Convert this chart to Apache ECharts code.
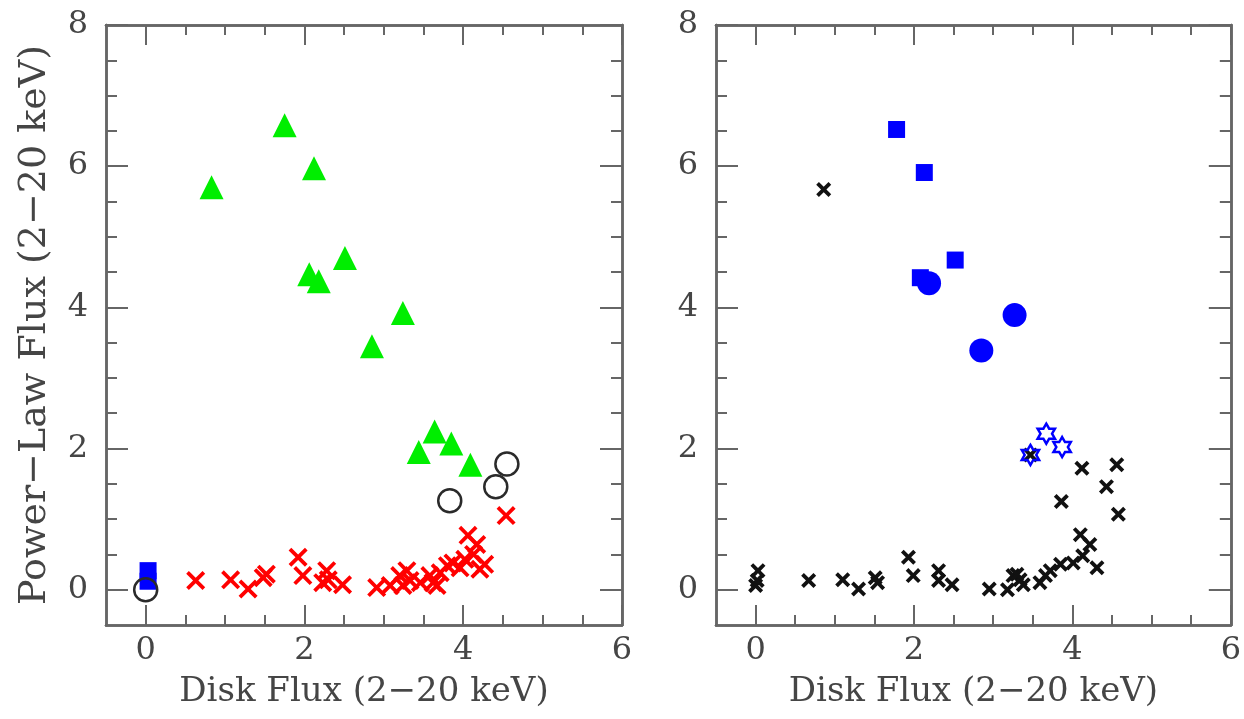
<!DOCTYPE html>
<html>
<head>
<meta charset="utf-8">
<script src="https://cdn.jsdelivr.net/npm/echarts@6/dist/echarts.min.js"></script>
<style>
html,body{margin:0;padding:0;background:#fff;}
#c{width:1244px;height:719px;}
</style>
</head>
<body>
<div id="c"></div>
<script>
// ---------- data ----------
const xTickLabels = [0, 2, 4, 6];
const yTickLabels = [0, 2, 4, 6, 8];
const xMinorTicks = [0.5, 1, 1.5, 2.5, 3, 3.5, 4.5, 5, 5.5];
const yMinorTicks = [0.5, 1, 1.5, 2.5, 3, 3.5, 4.5, 5, 5.5, 6.5, 7, 7.5];
const xTitle = 'Disk Flux (2\u221220 keV)';
const yTitle = 'Power\u2212Law Flux (2\u221220 keV)';

// left panel
const leftTriangles = [[0.83,5.70],[1.75,6.58],[2.12,5.97],[2.06,4.47],[2.18,4.37],[2.51,4.70],
  [2.85,3.45],[3.24,3.92],[3.44,1.95],[3.64,2.24],[3.85,2.07],[4.09,1.77]];
const leftOpenCircles = [[0.0,0.0],[3.83,1.26],[4.41,1.46],[4.55,1.78]];
const leftSquares = [[0.03,0.27],[0.03,0.12]];
const leftCrosses = [[0.63,0.13],[1.07,0.14],[1.29,0.01],[1.48,0.17],[1.52,0.22],[1.92,0.46],
  [1.98,0.20],[2.28,0.27],[2.30,0.14],[2.23,0.10],[2.48,0.07],[2.91,0.03],[3.08,0.06],[3.20,0.20],
  [3.29,0.27],[3.33,0.13],[3.24,0.06],[3.46,0.10],[3.58,0.20],[3.62,0.10],[3.67,0.06],[3.71,0.24],
  [3.80,0.34],[3.87,0.38],[3.96,0.31],[4.02,0.43],[4.06,0.77],[4.17,0.64],[4.13,0.50],[4.27,0.36],
  [4.21,0.29],[4.54,1.05]];

// right panel
const rightCrosses = [[0.03,0.27],[0.00,0.06],[0.02,0.13],[0.67,0.13],[1.10,0.14],[1.30,0.01],
  [1.51,0.17],[1.54,0.10],[1.93,0.46],[1.99,0.20],[2.31,0.27],[2.31,0.13],[2.48,0.07],[2.95,0.01],
  [3.18,0.00],[3.25,0.20],[3.34,0.14],[3.38,0.07],[3.30,0.22],[3.59,0.10],[3.66,0.20],[3.72,0.27],
  [3.85,0.36],[4.01,0.38],[4.10,0.78],[4.22,0.64],[4.13,0.48],[4.31,0.31],[3.86,1.25],[4.43,1.46],
  [4.58,1.07],[4.12,1.72],[4.56,1.77],[0.86,5.67],[3.47,1.91]];
const rightSquares = [[1.78,6.52],[2.13,5.91],[2.52,4.67],[2.08,4.42]];
const rightCircles = [[2.19,4.34],[3.27,3.89],[2.85,3.39]];
const rightStars = [[3.47,1.91],[3.67,2.21],[3.87,2.02]];

// ---------- styles ----------
const FONT = 'DejaVu Serif';
const TEXT = '#454545';
const FRAME = '#666666';
const crossThin = 'path://M0,1.4 L1.4,0 L5,3.6 L8.6,0 L10,1.4 L6.4,5 L10,8.6 L8.6,10 L5,6.4 L1.4,10 L0,8.6 L3.6,5 Z';
const crossBold = 'path://M0,1.8 L1.8,0 L5,3.2 L8.2,0 L10,1.8 L6.8,5 L10,8.2 L8.2,10 L5,6.8 L1.8,10 L0,8.2 L3.2,5 Z';
const hexStar = 'path://M5,0 L6.443,2.5 L9.33,2.5 L7.887,5 L9.33,7.5 L6.443,7.5 L5,10 L3.557,7.5 L0.67,7.5 L2.113,5 L0.67,2.5 L3.557,2.5 Z';

const grids = [
  {left:106, top:25, width:516, height:600},
  {left:716, top:25, width:516, height:600}
];

function xAxes(gi, withTitle) {
  const base = {type:'value', gridIndex:gi, min:-0.5, max:6, splitLine:{show:false},
    axisLine:{show:true, onZero:false, lineStyle:{color:FRAME, width:2.5}}};
  return [
    Object.assign({}, base, {position:'bottom',
      axisTick:{show:true, inside:true, length:20, customValues:xTickLabels, lineStyle:{color:FRAME, width:2}},
      axisLabel:{show:true, customValues:xTickLabels, margin:10, fontFamily:FONT, fontSize:32, color:TEXT},
      name: withTitle ? xTitle : '', nameLocation:'middle', nameGap:50,
      nameTextStyle:{fontFamily:FONT, fontSize:34, color:TEXT}}),
    Object.assign({}, base, {position:'bottom',
      axisTick:{show:true, inside:true, length:10, customValues:xMinorTicks, lineStyle:{color:FRAME, width:2}},
      axisLabel:{show:false}}),
    Object.assign({}, base, {position:'top',
      axisTick:{show:true, inside:true, length:20, customValues:xTickLabels, lineStyle:{color:FRAME, width:2}},
      axisLabel:{show:false}}),
    Object.assign({}, base, {position:'top',
      axisTick:{show:true, inside:true, length:10, customValues:xMinorTicks, lineStyle:{color:FRAME, width:2}},
      axisLabel:{show:false}})
  ];
}
function yAxes(gi, withTitle) {
  const base = {type:'value', gridIndex:gi, min:-0.5, max:8, splitLine:{show:false},
    axisLine:{show:true, onZero:false, lineStyle:{color:FRAME, width:2.5}}};
  return [
    Object.assign({}, base, {position:'left',
      axisTick:{show:true, inside:true, length:22, customValues:yTickLabels, lineStyle:{color:FRAME, width:2}},
      axisLabel:{show:true, customValues:yTickLabels, margin:18, fontFamily:FONT, fontSize:32, color:TEXT},
      name: withTitle ? yTitle : '', nameLocation:'middle', nameGap:52,
      nameTextStyle:{fontFamily:FONT, fontSize:38, color:TEXT}}),
    Object.assign({}, base, {position:'left',
      axisTick:{show:true, inside:true, length:11, customValues:yMinorTicks, lineStyle:{color:FRAME, width:2}},
      axisLabel:{show:false}}),
    Object.assign({}, base, {position:'right',
      axisTick:{show:true, inside:true, length:22, customValues:yTickLabels, lineStyle:{color:FRAME, width:2}},
      axisLabel:{show:false}}),
    Object.assign({}, base, {position:'right',
      axisTick:{show:true, inside:true, length:11, customValues:yMinorTicks, lineStyle:{color:FRAME, width:2}},
      axisLabel:{show:false}})
  ];
}

function sc(data, gi, symbol, size, itemStyle, z) {
  return {type:'scatter', xAxisIndex:gi*4, yAxisIndex:gi*4, data:data, symbol:symbol,
    symbolSize:size, symbolKeepAspect:true, itemStyle:Object.assign({opacity:1}, itemStyle), z:z||2, silent:true,
    emphasis:{disabled:true}};
}

const option = {
  backgroundColor:'#ffffff',
  animation:false,
  grid: grids,
  xAxis: xAxes(0, true).concat(xAxes(1, true)),
  yAxis: yAxes(0, true).concat(yAxes(1, false)),
  series: [
    sc(leftCrosses, 0, crossThin, 19, {color:'#ff0000'}, 2),
    sc(leftTriangles, 0, 'triangle', 24, {color:'#00ee00'}, 3),
    sc(leftSquares, 0, 'rect', 17, {color:'#0000ff'}, 3),
    sc(leftOpenCircles, 0, 'circle', 23, {color:'rgba(0,0,0,0)', borderColor:'#2a2a2a', borderWidth:2.5}, 4),
    sc(rightCrosses, 1, crossBold, 15, {color:'#111111'}, 2),
    sc(rightSquares, 1, 'rect', 17, {color:'#0000ff'}, 3),
    sc(rightCircles, 1, 'circle', 24, {color:'#0000ff'}, 3),
    sc(rightStars, 1, hexStar, 20, {color:'rgba(0,0,0,0)', borderColor:'#0000ff', borderWidth:2.5}, 4)
  ]
};
const chart = echarts.init(document.getElementById('c'), null, {renderer:'canvas'});
chart.setOption(option);
</script>
</body>
</html>
